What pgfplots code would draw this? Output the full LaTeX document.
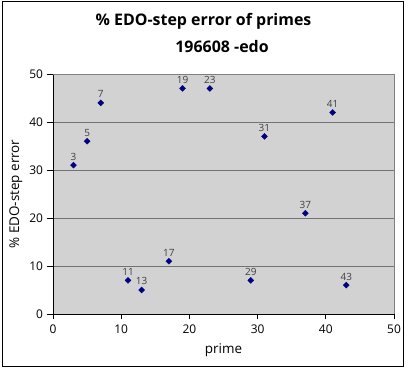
\documentclass[border=0pt]{standalone}
\usepackage{pgfplots}
\pgfplotsset{compat=1.18}
\usepackage{fontspec}
\setmainfont{Open Sans}
\definecolor{plotgray}{RGB}{210,210,210}
\definecolor{marknavy}{RGB}{0,0,128}
\pgfplotstableread{
x y lab
3 31 3
5 36 5
7 44 7
11 7 11
13 5 13
17 11 17
19 47 19
23 47 23
29 7 29
31 37 31
37 21 37
41 42 41
43 6 43
}\primes
\begin{document}
\begin{tikzpicture}[x=1bp,y=1bp]
\fill[white] (0,0) rectangle (407,368);
\draw[black, line width=1bp] (2,1.5) rectangle (403,366.5);
\node[font=\bfseries\fontsize{16}{18}\selectfont, anchor=base, inner sep=0] at (203.5,343) {\% EDO-step error of primes};
\node[font=\bfseries\fontsize{16}{18}\selectfont, anchor=base, inner sep=0] at (222,316) {196608 -edo};
\begin{axis}[
  at={(53bp,54bp)}, anchor=south west,
  scale only axis, width=341bp, height=240bp,
  xmin=0, xmax=50, ymin=0, ymax=50,
  xtick={0,10,...,50}, ytick={0,10,...,50},
  axis x line*=bottom, axis y line*=left,
  axis line style={black, line width=0.9bp, -},
  tick align=outside, major tick length=5.5bp,
  tick style={black, line width=0.9bp},
  axis background/.style={fill=plotgray},
  ymajorgrids, grid style={black!55, line width=0.7bp},
  /pgf/number format/assume math mode=true,
  ticklabel style={font=\fontsize{12}{14}\selectfont},
  xticklabel style={yshift=-2bp},
  yticklabel style={xshift=-1bp},
  xlabel={prime}, ylabel={\% EDO-step error},
  label style={font=\fontsize{13.5}{15}\selectfont},
  xlabel style={yshift=-3bp},
  ylabel style={yshift=0bp},
  clip=false,
]
\draw[black!50, line width=0.9bp] (rel axis cs:0,1) -- (rel axis cs:1,1) -- (rel axis cs:1,0);
\addplot[only marks, mark=square*, mark size=2.1bp, mark options={rotate=45}, color=marknavy,
  nodes near coords, point meta=explicit symbolic,
  every node near coord/.style={font=\fontsize{10}{12}\selectfont, text=black!75, anchor=south, yshift=1.5bp}]
  table[x=x, y=y, meta=lab] {\primes};
\end{axis}
\end{tikzpicture}
\end{document}
